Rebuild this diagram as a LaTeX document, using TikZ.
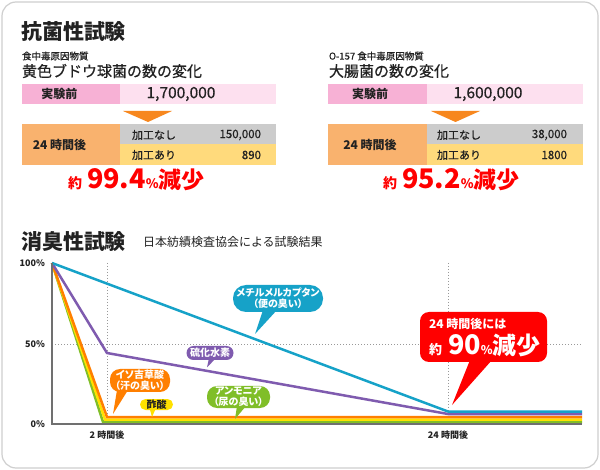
\documentclass[tikz,border=0pt]{standalone}
\usepackage{fontspec}
\setmainfont{Noto Sans CJK JP}
\newfontface\medf[FakeBold=0.6]{Noto Sans CJK JP}
\newfontfamily\paltf[RawFeature=+palt]{Noto Sans CJK JP}
\usetikzlibrary{calc}
\definecolor{pinkD}{HTML}{F7B1D5}
\definecolor{pinkL}{HTML}{FDE0EF}
\definecolor{peach}{HTML}{F9B26E}
\definecolor{grayC}{HTML}{CCCCCC}
\definecolor{yelC}{HTML}{FFDA7C}
\definecolor{arrowO}{HTML}{F7871E}
\definecolor{cyanL}{HTML}{16A2C8}
\definecolor{purpL}{HTML}{7F5BAF}
\definecolor{orngL}{HTML}{FF7F00}
\definecolor{yellL}{HTML}{FFE100}
\definecolor{grnL}{HTML}{80BE28}
\definecolor{redC}{HTML}{FF0000}
\definecolor{txt}{HTML}{222222}
\definecolor{framec}{HTML}{CFCFCF}
\definecolor{axisc}{HTML}{707070}
\definecolor{dotc}{HTML}{999999}
\newcommand\fsz[1]{\fontsize{#1}{#1}\selectfont}
\begin{document}
\begin{tikzpicture}[x=1pt,y=-1pt,
  every node/.style={inner sep=0pt, outer sep=0pt, text=txt},
  bub/.style={align=center, text=white, font=\paltf\bfseries\fontsize{10}{11}\selectfont},
  dataline/.style={line width=2.5pt, line join=miter},
  dotline/.style={dotc, line width=0.8pt, dash pattern=on 1pt off 2pt},
  redtxt/.style={text=redC, font=\bfseries}]
\useasboundingbox (0,0) rectangle (600,470);
\fill[white] (0,0) rectangle (600,470);
\draw[framec, line width=1.2pt, rounded corners=14pt] (2,2) rectangle (598,468);

% ---------- Section 1 ----------
\node[anchor=west] (t1) at (21,32) {\bfseries\fsz{21}抗菌性試験};

% left panel
\node[anchor=west] (s1) at (22,56) {\medf\fsz{9.5}食中毒原因物質};
\node[anchor=west] (h1) at (22,71) {\medf\fsz{15}黄色ブドウ球菌の数の変化};
\fill[pinkD] (22,84) rectangle (120,104);
\fill[pinkL] (120,84) rectangle (276,104);
\node (a1) at (59.5,94) {\bfseries\fsz{12}実験前};
\node (a2) at (181,94) {\medf\fsz{15.5}1,700,000};
\fill[arrowO] (123,111) -- (172,111) -- (148,122) -- cycle;
\fill[peach] (22,124) rectangle (120,165);
\fill[grayC] (120,124) rectangle (276,144.5);
\fill[yelC] (120,144.5) rectangle (276,165);
\node (a3) at (59.5,145) {\bfseries\fsz{12}24 時間後};
\node[anchor=west] (a4) at (132,135) {\medf\fsz{11}加工なし};
\node[anchor=east] (a5) at (261,135) {\medf\fsz{11.5}150,000};
\node[anchor=west] (a6) at (132,155) {\medf\fsz{11}加工あり};
\node[anchor=east] (a7) at (261,155) {\medf\fsz{11.5}890};
\node[anchor=base west, redtxt] (r1) at (68,189) {\fsz{14}約\hspace{5pt}\fsz{27}99.4\fsz{13}\%\fsz{23}減少};

% right panel
\node[anchor=west] (s2) at (329,56) {\medf\fsz{9.5}O-157 食中毒原因物質};
\node[anchor=west] (h2) at (329,71) {\medf\fsz{15}大腸菌の数の変化};
\fill[pinkD] (328,84) rectangle (427,104);
\fill[pinkL] (427,84) rectangle (583,104);
\node (b1) at (370,94) {\bfseries\fsz{12}実験前};
\node (b2) at (488,94) {\medf\fsz{15.5}1,600,000};
\fill[arrowO] (431,111) -- (480,111) -- (455.5,122) -- cycle;
\fill[peach] (328,124) rectangle (427,165);
\fill[grayC] (427,124) rectangle (583,144.5);
\fill[yelC] (427,144.5) rectangle (583,165);
\node (b3) at (370,145) {\bfseries\fsz{12}24 時間後};
\node[anchor=west] (b4) at (437,135) {\medf\fsz{11}加工なし};
\node[anchor=east] (b5) at (567,135) {\medf\fsz{11.5}38,000};
\node[anchor=west] (b6) at (437,155) {\medf\fsz{11}加工あり};
\node[anchor=east] (b7) at (567,155) {\medf\fsz{11.5}1800};
\node[anchor=base west, redtxt] (r2) at (383,189) {\fsz{14}約\hspace{5pt}\fsz{27}95.2\fsz{13}\%\fsz{23}減少};

% ---------- Section 2 ----------
\node[anchor=west] (t2) at (21,242) {\bfseries\fsz{21}消臭性試験};
\node[anchor=west] (t3) at (143,242) {\fsz{12}日本紡績検査協会による試験結果};

% grid
\draw[dotline] (107,263) -- (107,424);
\draw[dotline] (448,263) -- (448,424);
\draw[dotline] (52,344) -- (582,344);

% axis labels
\node[anchor=east] (y100) at (45,263) {\bfseries\fsz{9}100\%};
\node[anchor=east] (y50) at (45,344) {\bfseries\fsz{9}50\%};
\node[anchor=east] (y0) at (45,424) {\bfseries\fsz{9}0\%};
\node (x2) at (107,435.5) {\bfseries\fsz{9}2 時間後};
\node (x24) at (448,435.5) {\bfseries\fsz{9}24 時間後};

% data
\coordinate (o) at (52,263);
\draw[dataline, grnL] (o) -- (103,422) -- (582,422);
\draw[dataline, yellL] (o) -- (105,419.5) -- (582,419.5);
\draw[dataline, orngL] (o) -- (107,417) -- (582,417);
\draw[dataline, purpL] (o) -- (107,353) -- (448,414) -- (582,414);
\draw[dataline, cyanL] (o) -- (448,411.5) -- (582,411.5);

% axes
\draw[axisc, line width=1.5pt] (52,263) -- (52,424) -- (582,424);

% callouts
\node[bub, fill=cyanL, rounded corners=13pt, minimum width=90pt, minimum height=27pt] (c1) at (278,298.5) {メチルメルカプタン\\（便の臭い）};
\coordinate (c1t) at (255,334);
\fill[cyanL] (263,310) -- (277,310) -- (c1t) -- cycle;

\node[bub, fill=purpL, rounded corners=7pt, minimum width=47pt, minimum height=14pt] (c2) at (210,353) {硫化水素};
\coordinate (c2t) at (207,367.5);
\fill[purpL] (209,358) -- (216,358) -- (c2t) -- cycle;

\node[bub, fill=orngL, rounded corners=10pt, minimum width=60pt, minimum height=23pt] (c3) at (140,380.5) {イソ吉草酸\\（汗の臭い）};
\coordinate (c3t) at (113,414);
\fill[orngL] (117,390) -- (128,390) -- (c3t) -- cycle;

\node[bub, fill=yellL, text=txt, rounded corners=5.5pt, minimum width=33pt, minimum height=11pt] (c4) at (156.5,404.5) {酢酸};
\coordinate (c4t) at (152,417);
\fill[yellL] (149.5,408) -- (156,408) -- (c4t) -- cycle;

\node[bub, fill=grnL, rounded corners=10pt, minimum width=63pt, minimum height=22pt] (c5) at (238.5,397) {アンモニア\\（尿の臭い）};
\coordinate (c5t) at (235,419);
\fill[grnL] (237,406) -- (246,406) -- (c5t) -- cycle;

\node[fill=redC, rounded corners=9pt, minimum width=127pt, minimum height=50pt] (c6) at (483.5,337) {};
\coordinate (c6t) at (452,405);
\fill[redC] (470,360) -- (492,360) -- (c6t) -- cycle;
\node[anchor=base west, text=white] (c6a) at (429,329) {\bfseries\fsz{12}24 時間後には};
\node[anchor=base west, text=white] (c6b) at (429,355) {\bfseries\fsz{13}約\hspace{6pt}\fsz{27}90\fsz{12}\%\fsz{24}減少};
\end{tikzpicture}
\end{document}
